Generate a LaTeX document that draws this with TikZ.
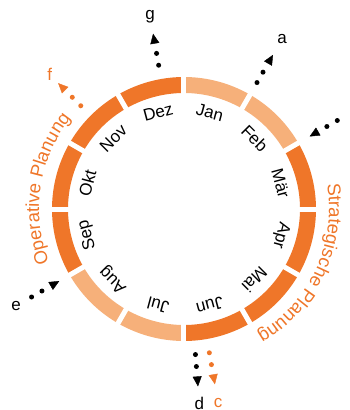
\documentclass[tikz,border=0pt]{standalone}
\usepackage{fontspec}
\setmainfont{Liberation Sans}
\usepackage{xcolor}
\definecolor{dorange}{RGB}{239, 118, 41}
\definecolor{lorange}{RGB}{246, 176, 122}
\usepackage{tikz}
\usetikzlibrary{arrows.meta, decorations.text}
\newcommand{\lblfont}{\fontsize{17}{20}\selectfont}
\newcommand{\arcfont}{\fontsize{18.5}{22}\selectfont}

\begin{document}
\begin{tikzpicture}[x=1pt, y=1pt,
		seg/.style={fill=#1},
		gap/.style={draw=white, line width=5pt},
		month/.style={font=\lblfont, text=black, inner sep=0pt},
		ptr/.style={line width=5pt, line cap=round, dash pattern=on 0pt off 12pt,
			-{Triangle[length=10pt, width=9pt, line width=0.4pt]}, color=#1},
		ptr/.default=black,
		tag/.style={font=\lblfont, text=#1, inner sep=0pt},
		tag/.default=black,
		arctext/.style={decorate, decoration={text along path, text align=center,
				text color=dorange, text={|\arcfont|#1}}}
		]
		\useasboundingbox (-184,-201) rectangle (166,209);
		
		% Ring und Monate
		\foreach \m/\c [count=\i] in {Jan/lorange, Feb/lorange, Mär/dorange, Apr/dorange,
			Mai/dorange, Jun/dorange, Jul/lorange, Aug/lorange, Sep/dorange, Okt/dorange,
			Nov/dorange, Dez/dorange} {
			\pgfmathsetmacro{\s}{120-30*\i}
			\pgfmathsetmacro{\e}{90-30*\i}
			\pgfmathsetmacro{\md}{105-30*\i}
			\fill[seg=\c] (\s:132) arc[start angle=\s, end angle=\e, radius=132]
			-- (\e:116) arc[start angle=\e, end angle=\s, radius=116] -- cycle;
			\node[month, rotate=\md-90] (m\i) at (\md:100) {\m};
		}
		\foreach \a in {0,30,...,330}
		\draw[gap] (\a:113) -- (\a:135);
		
		% Planungstexte
		\path[arctext=Strategische Planung] (20:145) arc[start angle=20, end angle=-70, radius=145];
		\path[arctext=Operative Planung] (211.5:145) arc[start angle=211.5, end angle=131.5, radius=145];
		
		% Pfeile
		\foreach \n/\w/\ra/\rb/\rl/\col in {a/60/146/178/196/black, b/30/177/145/196/black,
			c/-80/146/178/197/dorange, d/-85.5/146/178/195.5/black, e/210/176/144/194/black,
			f/135/146/178/190/dorange, g/100/146/178/195/black} {
			\coordinate (\n0) at (\w:\ra);
			\coordinate (\n1) at (\w:\rb);
			\draw[ptr=\col] (\n0) -- (\n1);
			\node[tag=\col] (\n) at (\w:\rl) {\n};
		}
	\end{tikzpicture}
\end{document}
